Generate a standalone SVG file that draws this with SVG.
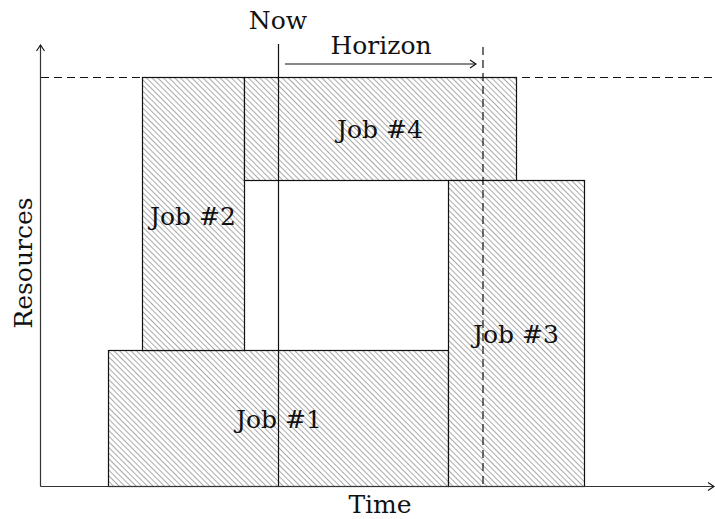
<svg xmlns="http://www.w3.org/2000/svg" width="715" height="519" viewBox="0 0 715 519">
<style>
text{font-family:"DejaVu Serif","Liberation Serif",serif;font-size:25px;fill:#111;}
.job rect{fill:url(#hatch);stroke:#111;stroke-width:1.2;}
.ax{stroke:#333;stroke-width:1.2;fill:none;}
.dash{stroke:#111;stroke-width:1.2;stroke-dasharray:8,5;fill:none;}
</style>
<defs>
<pattern id="hatch" patternUnits="userSpaceOnUse" width="4" height="4" patternTransform="rotate(-45)">
<rect width="4" height="4" fill="#fff"/>
<line x1="0" y1="0" x2="0" y2="4" stroke="#555" stroke-width="1"/>
</pattern>
<marker id="arr" markerWidth="10" markerHeight="10" refX="8" refY="5" orient="auto" markerUnits="userSpaceOnUse">
<path d="M2,1 L8,5 L2,9" fill="none" stroke="#111" stroke-width="1.1"/>
</marker>
</defs>
<g id="jobs">
<g id="job1" class="job"><rect x="108.5" y="350.5" width="340" height="136"/><text x="279" y="428" text-anchor="middle">Job #1</text></g>
<g id="job2" class="job"><rect x="142.5" y="77.5" width="102" height="273"/><text x="193" y="225" text-anchor="middle">Job #2</text></g>
<g id="job4" class="job"><rect x="244.5" y="77.5" width="272" height="103"/><text x="380" y="138" text-anchor="middle">Job #4</text></g>
<g id="job3" class="job"><rect x="448.5" y="180.5" width="136" height="306"/><text x="516" y="343" text-anchor="middle">Job #3</text></g>
</g>
<g id="connectors">
<line class="dash" x1="41" y1="77.5" x2="715" y2="77.5"/>
<line class="ax" x1="40.5" y1="486.5" x2="40.5" y2="45" marker-end="url(#arr)"/>
<line class="ax" x1="40.5" y1="486.5" x2="714" y2="486.5" marker-end="url(#arr)"/>
<line x1="278.5" y1="44" x2="278.5" y2="486" stroke="#111" stroke-width="1.2"/>
<line class="dash" x1="483" y1="47" x2="483" y2="486"/>
<line x1="285" y1="64" x2="476" y2="64" stroke="#111" stroke-width="1" marker-end="url(#arr)"/>
</g>
<g id="labels">
<text x="278" y="29" text-anchor="middle">Now</text>
<text x="381" y="54" text-anchor="middle">Horizon</text>
<text x="380" y="513" text-anchor="middle">Time</text>
<text transform="translate(32,263) rotate(-90)" text-anchor="middle">Resources</text>
</g>
</svg>
